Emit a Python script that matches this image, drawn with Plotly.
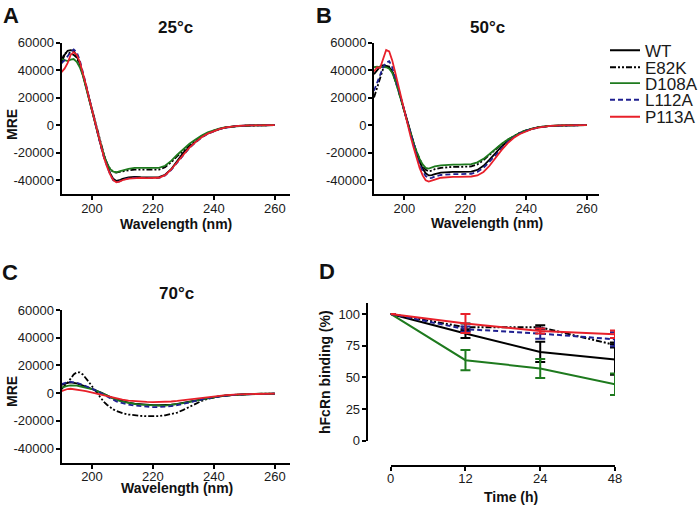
import plotly.graph_objects as go

W, H = 700, 507

# ---------------- data ----------------
wavelength = [190, 191, 192, 193, 194, 195, 196, 197, 198, 199, 200, 201, 202, 203, 204,
              205, 206, 207, 208, 209, 210, 212, 214, 216, 218, 220, 222, 224, 226, 228,
              230, 232, 234, 236, 238, 240, 242, 244, 248, 252, 256, 260]

mutants = ["WT", "E82K", "D108A", "L112A", "P113A"]

# Panel A, 25 °C
A_WT = [45000, 51000, 54000, 54500, 54000, 50000, 44500, 37000, 28500, 19500, 10500, 2000, -7000, -15500, -23000,
        -29500, -35000, -39000, -40500, -40000, -39000, -38000, -37500, -37800, -38000, -38000, -37800, -36000, -32000, -26000,
        -20000, -15800, -12000, -8500, -6000, -4200, -2700, -1700, -600, -200, -100, 0]
A_E82K = [47000, 52000, 53000, 52000, 51000, 49000, 44000, 37000, 28500, 19500, 10500, 2000, -7000, -15000, -22000,
          -28000, -32000, -34000, -34500, -34000, -33500, -32800, -32300, -32300, -32500, -32500, -32300, -30500, -27000, -22500,
          -18500, -14500, -11000, -8000, -5800, -4000, -2600, -1600, -600, -200, -100, 0]
A_D108A = [48000, 47000, 46500, 47500, 48000, 46000, 42000, 36000, 28000, 19500, 10500, 2000, -7000, -15000, -22000,
           -28000, -32000, -33800, -34200, -33500, -32800, -31800, -31000, -31000, -31300, -31300, -31000, -29500, -26000, -21500,
           -17500, -13500, -10500, -7500, -5300, -3700, -2400, -1500, -600, -200, -100, 0]
A_L112A = [45000, 47000, 50000, 53000, 55000, 53000, 47000, 39000, 30000, 20500, 11000, 2000, -7500, -16000, -24000,
           -30500, -36000, -40000, -41300, -40800, -39800, -38700, -38200, -38300, -38500, -38500, -38300, -36500, -32500, -27000,
           -21500, -16500, -12500, -9000, -6300, -4300, -2800, -1800, -600, -200, -100, 0]
A_P113A = [38500, 41000, 45000, 51000, 53000, 51000, 46000, 38500, 29500, 20000, 11000, 2000, -7500, -16000, -24000,
           -30500, -36000, -40000, -41500, -41000, -40000, -38800, -38300, -38300, -38500, -38500, -38200, -36300, -32200, -26800,
           -21300, -16300, -12300, -8800, -6200, -4200, -2700, -1700, -600, -200, -100, 0]

# Panel B, 50 °C
B_WT = [37000, 40000, 42500, 43500, 43000, 42000, 39000, 33500, 26000, 18000, 10000, 2000, -6000, -13500, -20500,
        -26500, -31500, -35000, -36500, -36300, -35500, -34500, -34000, -34000, -34000, -34000, -33800, -32500, -29500, -25000,
        -20000, -15500, -11500, -8300, -5800, -4000, -2600, -1600, -600, -200, -100, 0]
B_E82K = [20000, 27000, 35000, 41000, 43000, 42500, 39000, 33000, 25500, 17500, 9500, 1500, -6000, -13000, -19500,
          -25000, -29500, -32500, -33500, -33000, -32000, -31000, -30500, -30300, -30300, -30300, -30000, -28500, -25500, -21500,
          -17500, -13800, -10500, -7800, -5500, -3800, -2500, -1500, -600, -200, -100, 0]
B_D108A = [42000, 42500, 42000, 42500, 42000, 41000, 38000, 32500, 25000, 17000, 9000, 1500, -6000, -13000, -19000,
           -24500, -28500, -31000, -31500, -30800, -30000, -29200, -28800, -28700, -28700, -28600, -28300, -27000, -24500, -21000,
           -17000, -13500, -10500, -7800, -5500, -3800, -2500, -1500, -600, -200, -100, 0]
B_L112A = [25000, 31000, 37000, 42000, 45500, 46500, 42000, 35000, 27000, 18500, 10000, 1500, -7000, -14500, -22000,
           -28500, -33500, -37000, -38500, -38300, -37300, -36200, -35700, -35600, -35600, -35600, -35300, -34000, -31000, -26500,
           -21500, -16500, -12200, -8700, -6000, -4100, -2700, -1700, -600, -200, -100, 0]
B_P113A = [39000, 42000, 41500, 48000, 54500, 53500, 47000, 38000, 28500, 19000, 10000, 1000, -8000, -16000, -24000,
           -31000, -36500, -40000, -41000, -40500, -39500, -38200, -37700, -37500, -37500, -37500, -37300, -36500, -34000, -29500,
           -23500, -18000, -13000, -9200, -6400, -4400, -2800, -1800, -600, -200, -100, 0]

# Panel C, 70 °C
C_WT = [6000, 7000, 7500, 7800, 7500, 7000, 6300, 5500, 4800, 4000, 3300, 2500, 1500, 500, -700,
        -1800, -2800, -3700, -4500, -5200, -5800, -6800, -7500, -8000, -8400, -8600, -8700, -8600, -8300, -7700,
        -7000, -6200, -5300, -4400, -3500, -2800, -2200, -1700, -1000, -600, -400, -300]
C_E82K = [3000, 5000, 7500, 10500, 13500, 15000, 15000, 13500, 11000, 8000, 5000, 2000, -1000, -4000, -6500,
          -8500, -10300, -11700, -12800, -13700, -14400, -15400, -16000, -16400, -16600, -16700, -16500, -16000, -15200, -14000,
          -12000, -9800, -7600, -5600, -4000, -2900, -2200, -1700, -1000, -600, -400, -300]
C_D108A = [4000, 4800, 5300, 5600, 5600, 5400, 5000, 4600, 4100, 3600, 3000, 2300, 1400, 400, -700,
           -1800, -2900, -3900, -4800, -5500, -6100, -7100, -7800, -8300, -8700, -8900, -9000, -8900, -8500, -7900,
           -7100, -6200, -5200, -4300, -3400, -2700, -2100, -1600, -900, -600, -400, -300]
C_L112A = [6500, 7500, 8000, 8200, 8000, 7500, 6800, 6000, 5200, 4300, 3300, 2200, 1000, -300, -1600,
           -2900, -4000, -5000, -5900, -6600, -7200, -8200, -8900, -9400, -9800, -10000, -10000, -9800, -9400, -8700,
           -7800, -6800, -5700, -4600, -3600, -2800, -2200, -1700, -1000, -600, -400, -300]
C_P113A = [1500, 2500, 3000, 3200, 3000, 2700, 2300, 1900, 1500, 1000, 500, 0, -500, -1100, -1700,
           -2300, -2900, -3400, -3900, -4300, -4700, -5300, -5800, -6100, -6300, -6400, -6400, -6300, -6000, -5600,
           -5100, -4500, -3900, -3300, -2700, -2200, -1800, -1400, -800, -500, -400, -300]

# Panel D, hFcRn binding (%)
time_h = ["0", "12", "24", "48"]
D_WT = [100, 84.5, 70, 64]
D_WT_err = [None, 3.5, 8, 12]
D_E82K = [100, 89.5, 89.5, 75.5]
D_E82K_err = [None, 3, 1.5, 2]
D_D108A = [100, 63.5, 57, 44.5]
D_D108A_err = [None, 8, 7.5, 8.5]
D_L112A = [100, 88, 84.5, 80]
D_L112A_err = [None, 2, 4, 5.5]
D_P113A = [100, 92.5, 86.5, 84]
D_P113A_err = [None, 7.5, 2, 3]

cd_y_ticks = [-40000, -20000, 0, 20000, 40000, 60000]
cd_y_ticklabels = ["-40000", "-20000", "0", "20000", "40000", "60000"]
cd_x_ticks = [200, 220, 240, 260]
d_y_ticks = [0, 25, 50, 75, 100]

# ---------------- styles ----------------
colors = {"WT": "#000000", "E82K": "#000000", "D108A": "#1e7a1e",
          "L112A": "#1f2090", "P113A": "#e8202a"}
dashes = {"WT": "solid", "E82K": "6px,2px,2px,2px,2px,2px", "D108A": "solid",
          "L112A": "5px,3px", "P113A": "solid"}

FONT = "Liberation Sans, Arial, sans-serif"

def px_x(p):
    return p / W

def px_y(p):
    return 1 - p / H

fig = go.Figure()

panels = [
    ("x", "y", [A_WT, A_E82K, A_D108A, A_L112A, A_P113A]),
    ("x2", "y2", [B_WT, B_E82K, B_D108A, B_L112A, B_P113A]),
    ("x3", "y3", [C_WT, C_E82K, C_D108A, C_L112A, C_P113A]),
]
legend_ids = ["legend", "legend2", "legend3", "legend4", "legend5"]

for pi, (xa, ya, series) in enumerate(panels):
    for name, vals, lg in zip(mutants, series, legend_ids):
        fig.add_trace(go.Scatter(
            x=wavelength, y=vals, mode="lines", name=name,
            xaxis=xa, yaxis=ya,
            line=dict(color=colors[name], width=1.8, dash=dashes[name]),
            showlegend=(pi == 1), legend=lg,
        ))

D_series = [(D_WT, D_WT_err), (D_E82K, D_E82K_err), (D_D108A, D_D108A_err),
            (D_L112A, D_L112A_err), (D_P113A, D_P113A_err)]
for name, (vals, err) in zip(mutants, D_series):
    fig.add_trace(go.Scatter(
        x=time_h, y=vals, mode="lines", name=name,
        xaxis="x4", yaxis="y4",
        line=dict(color=colors[name], width=2, dash=dashes[name]),
        error_y=dict(type="data", array=err, visible=True, color=colors[name],
                     thickness=2, width=5),
        showlegend=False,
    ))

axis_common = dict(showline=True, linecolor="black", linewidth=2, ticks="outside",
                   ticklen=4, tickwidth=2, tickcolor="black", showgrid=False,
                   zeroline=False, automargin=False,
                   tickfont=dict(family=FONT, size=13, color="#1a1a1a"))
x_common = dict(axis_common, ticklabelstandoff=-3)
y_common = dict(axis_common, ticklabelstandoff=-1)

layout = dict(
    template="none",
    width=W, height=H, margin=dict(l=0, r=0, t=0, b=0, autoexpand=False),
    paper_bgcolor="white", plot_bgcolor="white",
    font=dict(family=FONT, color="black"),
    xaxis=dict(domain=[px_x(61.5), px_x(290)], range=[190, 265], anchor="y",
               tickvals=cd_x_ticks, **x_common),
    yaxis=dict(domain=[px_y(194), px_y(42.5)], range=[-50000, 60000], anchor="x",
               tickvals=cd_y_ticks, ticktext=cd_y_ticklabels, **y_common),
    xaxis2=dict(domain=[px_x(374), px_x(599)], range=[190, 264], anchor="y2",
                tickvals=cd_x_ticks, **x_common),
    yaxis2=dict(domain=[px_y(194), px_y(42.5)], range=[-50000, 60000], anchor="x2",
                tickvals=cd_y_ticks, ticktext=cd_y_ticklabels, **y_common),
    xaxis3=dict(domain=[px_x(61.5), px_x(290)], range=[190, 265], anchor="y3",
                tickvals=cd_x_ticks, **x_common),
    yaxis3=dict(domain=[px_y(462.5), px_y(310)], range=[-50000, 60000], anchor="x3",
                tickvals=cd_y_ticks, ticktext=cd_y_ticklabels, **y_common),
    xaxis4=dict(domain=[px_x(390.7), px_x(615)], range=[0, 3], type="category",
                anchor="free", position=px_y(465.7), **x_common),
    yaxis4=dict(domain=[px_y(440.7), px_y(303.3)], range=[0, 108.4], anchor="free",
                position=px_x(366.7), tickvals=d_y_ticks, **y_common),
)

legend_rows = [50.7, 67.7, 83.5, 100.2, 117.2]
for lg, row in zip(legend_ids, legend_rows):
    layout[lg] = dict(x=px_x(605), y=px_y(row), xanchor="left", yanchor="middle",
                      font=dict(family=FONT, size=17, color="#1a1a1a"),
                      bgcolor="rgba(0,0,0,0)", itemwidth=30, borderwidth=0)

fig.update_layout(**layout)

ann = []
def add_text(text, x, y, size, bold=True, angle=0):
    ann.append(dict(text=text, x=px_x(x), y=px_y(y), xref="paper", yref="paper",
                    showarrow=False, xanchor="center", yanchor="middle", textangle=angle,
                    font=dict(family=FONT, size=size, color="#111111",
                              weight="bold" if bold else "normal")))

# panel letters
add_text("A", 11, 15, 22)
add_text("B", 324, 15, 22)
add_text("C", 10, 272, 22)
add_text("D", 327, 271, 22)
# panel titles
add_text("25°c", 175, 27, 17)
add_text("50°c", 487, 27, 17)
add_text("70°c", 176, 293, 17)
# axis titles
add_text("Wavelength (nm)", 176, 224, 14)
add_text("Wavelength (nm)", 487, 223, 14)
add_text("Wavelength (nm)", 177, 488, 14)
add_text("MRE", 12, 125, 14, angle=-90)
add_text("MRE", 12, 392, 14, angle=-90)
add_text("hFcRn binding (%)", 325, 372, 14, angle=-90)
add_text("Time (h)", 511, 497, 14)

fig.update_layout(annotations=ann)

fig.write_html(
    "out.html",
    config={"displayModeBar": False},
    post_script="document.body.style.margin='0px';document.body.style.padding='0px';"
                "document.documentElement.style.overflow='hidden';",
)
